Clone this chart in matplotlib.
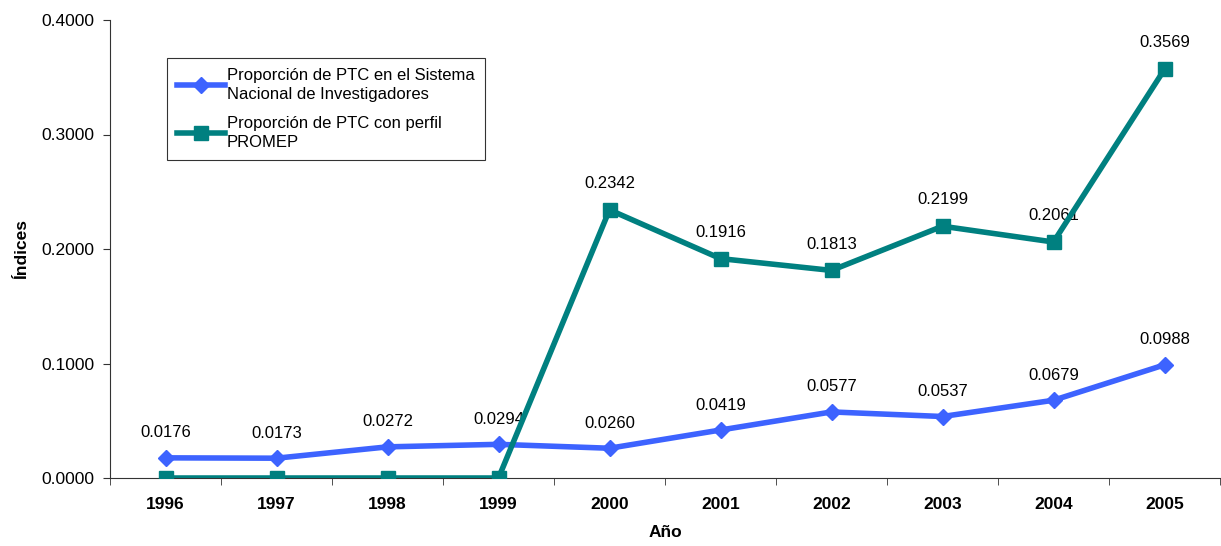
import numpy as np
import matplotlib.pyplot as plt

plt.rcParams['font.family'] = ['Liberation Sans', 'DejaVu Sans']

anios = ['1996', '1997', '1998', '1999', '2000', '2001', '2002', '2003', '2004', '2005']
sni = [0.0176, 0.0173, 0.0272, 0.0294, 0.0260, 0.0419, 0.0577, 0.0537, 0.0679, 0.0988]
promep = [0.0, 0.0, 0.0, 0.0, 0.2342, 0.1916, 0.1813, 0.2199, 0.2061, 0.3569]

azul = '#3D63FF'
verde = '#008080'

fig = plt.figure(figsize=(12.21, 5.46), dpi=100)
ax = fig.add_axes([110 / 1221, 68 / 546, 1110 / 1221, 458 / 546])

x = np.arange(len(anios))
ax.plot(x, sni, color=azul, lw=4, marker='D', ms=8, mec=azul, mfc=azul,
        label='Proporción de PTC en el Sistema\nNacional de Investigadores', zorder=3)
ax.plot(x, promep, color=verde, lw=4, marker='s', ms=10, mec=verde, mfc=verde,
        label='Proporción de PTC con perfil\nPROMEP', zorder=4)

# etiquetas de datos
for xi, v in zip(x, sni):
    ax.annotate(f'{v:.4f}', (xi, v), xytext=(0, 18), textcoords='offset points',
                ha='center', va='center', fontsize=12)
for xi, v in zip(x, promep):
    if v > 0:
        ax.annotate(f'{v:.4f}', (xi, v), xytext=(0, 19), textcoords='offset points',
                    ha='center', va='center', fontsize=12)

ax.set_xlim(-0.5, len(anios) - 0.5)
ax.set_ylim(0, 0.4)
ax.set_yticks([0, 0.1, 0.2, 0.3, 0.4])
ax.set_yticklabels([f'{t:.4f}' for t in [0, 0.1, 0.2, 0.3, 0.4]], fontsize=12.5)
ax.set_xticks(x)
ax.set_xticklabels(anios, fontsize=12.5, fontweight='bold')
ax.tick_params(axis='x', length=0, pad=14)
ax.set_xticks(np.arange(-0.5, len(anios)), minor=True)
ax.tick_params(axis='x', which='minor', length=5, direction='out', color='#333333')
ax.tick_params(axis='y', length=5, direction='out', color='#333333', pad=6)

for s in ['top', 'right']:
    ax.spines[s].set_visible(False)
ax.spines['left'].set_color('#333333')
ax.spines['bottom'].set_color('#333333')

ax.set_xlabel('Año', fontsize=12.5, fontweight='bold', labelpad=9)
ax.set_ylabel('Índices', fontsize=12.5, fontweight='bold', labelpad=9)

leg = ax.legend(loc='upper left', bbox_to_anchor=(57 / 1110, 1 - 38 / 458), fontsize=12,
                frameon=True, fancybox=False, edgecolor='black', handlelength=2.9,
                handletextpad=0.1, borderpad=0.6, labelspacing=0.8, borderaxespad=0)
leg.get_frame().set_linewidth(0.8)
for t in leg.get_texts():
    t.set_linespacing(1.35)

fig.savefig('out.png', dpi=100)
